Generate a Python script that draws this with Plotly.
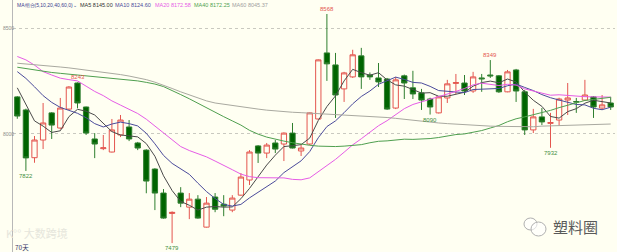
import plotly.graph_objects as go

# ---------------- data ----------------
days = list(range(1, 71))

open_ = [8174, 8112, 7885, 7969, 8098, 8026, 8116, 8240, 8126, 7974,
         7928, 7912, 7993, 8031, 7955, 7921, 7831, 7717, 7620, 7717,
         7650, 7688, 7555, 7698, 7664, 7636, 7707, 7779, 7941, 7907,
         7955, 7950, 8002, 7917, 7950, 8069, 8383, 8326, 8212, 8269,
         8369, 8278, 8264, 8259, 8121, 8274, 8217, 8193, 8164, 8098,
         8169, 8238, 8240, 8202, 8264, 8278, 8274, 8198, 8302, 8198,
         8017, 8079, 8048, 8064, 8159, 8152, 8159, 8174, 8121, 8145]
high = [8178, 8118, 7988, 8145, 8102, 8169, 8225, 8243, 8128, 8002,
        7993, 8069, 8088, 8064, 7960, 7925, 7835, 7736, 7630, 7745,
        7717, 7707, 7698, 7717, 7707, 7707, 7812, 7921, 7945, 7955,
        7969, 8005, 8050, 7950, 8100, 8352, 8568, 8383, 8293, 8398,
        8407, 8290, 8335, 8264, 8269, 8280, 8298, 8212, 8170, 8178,
        8255, 8283, 8278, 8293, 8283, 8349, 8278, 8302, 8307, 8207,
        8117, 8121, 8098, 8170, 8240, 8169, 8255, 8178, 8183, 8174]
low = [8070, 7822, 7861, 7926, 7974, 8020, 8112, 8120, 7993, 7883,
       7921, 7910, 7983, 7964, 7921, 7716, 7636, 7595, 7479, 7650,
       7593, 7595, 7553, 7626, 7607, 7626, 7705, 7755, 7860, 7883,
       7907, 7869, 7929, 7893, 7945, 8066, 8250, 8074, 8150, 8264,
       8212, 8255, 8221, 8112, 8116, 8164, 8164, 8112, 8090, 8095,
       8145, 8188, 8183, 8193, 8198, 8264, 8193, 8196, 8150, 7993,
       8002, 8040, 7932, 8036, 8088, 8098, 8155, 8074, 8112, 8112]
close = [8083, 7884, 7969, 8050, 8040, 8121, 8221, 8145, 8002, 7950,
         7932, 8017, 8064, 7974, 7931, 7774, 7717, 7598, 7625, 7669,
         7688, 7598, 7669, 7640, 7655, 7693, 7793, 7912, 7907, 7945,
         7926, 8002, 7931, 7931, 8098, 8350, 8331, 8183, 8288, 8374,
         8269, 8269, 8245, 8116, 8255, 8240, 8188, 8159, 8126, 8174,
         8236, 8242, 8202, 8269, 8260, 8274, 8198, 8293, 8202, 8017,
         8079, 8055, 8052, 8164, 8169, 8150, 8183, 8126, 8136, 8126]

ma5 = [8217, 8136, 8060, 8035, 8005, 8013, 8080, 8115, 8106, 8088,
       8050, 8009, 7993, 7987, 7984, 7952, 7892, 7799, 7729, 7677,
       7659, 7636, 7650, 7653, 7650, 7651, 7690, 7739, 7792, 7850,
       7897, 7938, 7942, 7947, 7978, 8062, 8128, 8179, 8250, 8305,
       8289, 8277, 8289, 8255, 8231, 8225, 8209, 8192, 8194, 8177,
       8177, 8187, 8196, 8225, 8242, 8249, 8241, 8259, 8245, 8197,
       8158, 8129, 8081, 8073, 8104, 8118, 8144, 8158, 8153, 8145]
ma10 = [8294, 8262, 8222, 8180, 8148, 8124, 8110, 8096, 8075, 8047,
        8031, 8045, 8054, 8047, 8036, 8001, 7951, 7896, 7858, 7830,
        7806, 7764, 7724, 7691, 7663, 7655, 7663, 7694, 7722, 7750,
        7774, 7814, 7840, 7870, 7914, 7980, 8033, 8060, 8099, 8141,
        8176, 8202, 8234, 8252, 8268, 8257, 8243, 8240, 8224, 8204,
        8201, 8198, 8194, 8209, 8210, 8213, 8214, 8227, 8235, 8219,
        8204, 8185, 8170, 8159, 8150, 8138, 8136, 8120, 8113, 8125]
ma20 = [8366, 8350, 8325, 8294, 8278, 8263, 8256, 8250, 8225, 8200,
        8180, 8155, 8135, 8114, 8095, 8068, 8035, 8000, 7968, 7938,
        7919, 7904, 7889, 7869, 7850, 7828, 7807, 7795, 7790, 7790,
        7790, 7789, 7782, 7780, 7789, 7817, 7848, 7877, 7911, 7946,
        7975, 8008, 8037, 8061, 8091, 8118, 8138, 8150, 8161, 8173,
        8188, 8200, 8214, 8231, 8239, 8235, 8228, 8234, 8230, 8212,
        8202, 8192, 8182, 8184, 8180, 8176, 8175, 8174, 8174, 8173]
ma40 = [8315, 8308, 8302, 8296, 8290, 8286, 8282, 8278, 8274, 8270,
        8267, 8263, 8259, 8255, 8250, 8243, 8235, 8223, 8205, 8185,
        8165, 8143, 8120, 8100, 8080, 8060, 8040, 8015, 7997, 7983,
        7972, 7964, 7956, 7949, 7944, 7940, 7938, 7938, 7940, 7942,
        7947, 7956, 7963, 7965, 7970, 7973, 7972, 7973, 7976, 7981,
        7989, 7995, 7998, 8006, 8014, 8026, 8038, 8056, 8070, 8079,
        8089, 8100, 8110, 8123, 8135, 8147, 8157, 8162, 8168, 8172]
ma60 = [8334, 8331, 8328, 8324, 8320, 8316, 8312, 8307, 8302, 8297,
        8292, 8286, 8280, 8273, 8265, 8256, 8244, 8230, 8214, 8198,
        8183, 8167, 8155, 8145, 8139, 8134, 8125, 8120, 8116, 8111,
        8107, 8103, 8101, 8099, 8097, 8095, 8093, 8091, 8089, 8087,
        8085, 8083, 8080, 8076, 8072, 8067, 8063, 8058, 8054, 8050,
        8047, 8044, 8042, 8040, 8037, 8035, 8034, 8033, 8032, 8032,
        8032, 8035, 8036, 8038, 8040, 8041, 8040, 8040, 8042, 8045]

ma_names = ["MA5", "MA10", "MA20", "MA40", "MA60"]
ma_legend_values = ["8145.00", "8124.60", "8172.58", "8172.25", "8045.37"]
header_label = "MA组合(5,10,20,40,60,0)\u2304"
y_ticks = [8000, 8500]
high_marks = [8, 37, 56]        # candles whose highs are labelled
low_marks = [2, 19, 49, 63]     # candles whose lows are labelled
period_label = "70天"
watermark_left = "K\u00b0\u00b0 大数跨境"
watermark_right = "塑料圈"

# ---------------- styles ----------------
BG = "#fffff2"
UP = "#e4564f"
DOWN_LINE = "#2f7f2f"
DOWN_FILL = "#006400"
ma_colors = ["#4a4a4a", "#4b4b9b", "#e65ce6", "#4f9f4f", "#a9a9a0"]
header_color = "#3b3b8f"
FONT = "Liberation Sans, Arial, sans-serif"

W, H = 617, 252
ML, MR = 13, 2
plot_w = W - ML - MR


def px_to_paper_x(px):
    return (px - ML) / plot_w


fig = go.Figure()

fig.add_trace(go.Candlestick(
    x=days, open=open_, high=high, low=low, close=close,
    increasing=dict(line=dict(color=UP, width=1), fillcolor=BG),
    decreasing=dict(line=dict(color=DOWN_LINE, width=1), fillcolor=DOWN_FILL),
    whiskerwidth=0, showlegend=False, hoverinfo="skip",
))

for name, series, col in zip(ma_names, [ma5, ma10, ma20, ma40, ma60], ma_colors):
    fig.add_trace(go.Scatter(
        x=days, y=series, mode="lines", name=name,
        line=dict(color=col, width=1), showlegend=False, hoverinfo="skip",
    ))

annotations = []
# y tick labels (left of the axis line)
for v in y_ticks:
    annotations.append(dict(
        x=px_to_paper_x(1.5), y=v, xref="paper", yref="y", xanchor="left",
        yanchor="middle", borderpad=0, text=str(v), showarrow=False,
        font=dict(size=5, color="#8a8a8a", family=FONT)))

# high / low value labels
for i in high_marks:
    annotations.append(dict(
        x=days[i - 1], y=high[i - 1], xref="x", yref="y",
        text=str(high[i - 1]), showarrow=False, yanchor="bottom", yshift=0,
        font=dict(size=6, color=UP, family=FONT)))
for i in low_marks:
    annotations.append(dict(
        x=days[i - 1], y=low[i - 1], xref="x", yref="y",
        text=str(low[i - 1]), showarrow=False, yanchor="top", yshift=0,
        font=dict(size=6, color="#3f8f3f", family=FONT)))

# header legend
header_x = [15, 78, 113, 153, 192, 230]
header_texts = [header_label] + [f"{n} {v}" for n, v in zip(ma_names, ma_legend_values)]
header_cols = [header_color] + ma_colors
header_cols[1] = "#333333"
header_cols[5] = "#a0a0a0"
header_sizes = [5, 5.5, 5.5, 5.5, 5.5, 5.5]
for hx, ht, hc, hs in zip(header_x, header_texts, header_cols, header_sizes):
    annotations.append(dict(
        x=px_to_paper_x(hx), y=1, xref="paper", yref="paper",
        xanchor="left", yanchor="top", yshift=0,
        text=ht, showarrow=False, font=dict(size=hs, color=hc, family=FONT)))

# bottom labels & watermarks
annotations.append(dict(x=0, y=0, xref="paper", yref="paper", xanchor="left",
                        yanchor="bottom", text=period_label, showarrow=False,
                        xshift=0, yshift=-2,
                        font=dict(size=6.5, color="#333366", family="Noto Sans CJK SC")))
annotations.append(dict(x=px_to_paper_x(4), y=0, xref="paper", yref="paper",
                        xanchor="left", yanchor="bottom", yshift=9,
                        text=watermark_left, showarrow=False,
                        font=dict(size=11, color="#e6e6dc", family="Noto Sans CJK SC")))
annotations.append(dict(x=px_to_paper_x(551), y=0, xref="paper", yref="paper",
                        xanchor="left", yanchor="bottom", yshift=13,
                        text=watermark_right, showarrow=False,
                        font=dict(size=15, color="#5a5a5a", family="Noto Sans CJK SC")))

shapes = [
    dict(type="circle", xref="paper", yref="paper",
         x0=px_to_paper_x(524), x1=px_to_paper_x(537),
         y0=1 - 230 / H, y1=1 - 218 / H,
         line=dict(color="#b0b0b0", width=1), fillcolor="rgba(255,255,255,0.6)"),
    dict(type="circle", xref="paper", yref="paper",
         x0=px_to_paper_x(531), x1=px_to_paper_x(546),
         y0=1 - 236 / H, y1=1 - 222 / H,
         line=dict(color="#b0b0b0", width=1), fillcolor="rgba(255,255,255,0.6)"),
]

fig.update_layout(
    width=W, height=H,
    margin=dict(l=ML, r=MR, t=0, b=0, pad=0),
    paper_bgcolor=BG, plot_bgcolor=BG,
    template="none",
    boxgap=0.12,
    showlegend=False,
    annotations=annotations,
    shapes=shapes,
    font=dict(family=FONT),
    xaxis=dict(range=[0.5, 70.5], showgrid=False, zeroline=False,
               showticklabels=False, ticks="", showline=False,
               rangeslider=dict(visible=False), fixedrange=True),
    yaxis=dict(range=[7436.8, 8634.5], tickvals=y_ticks,
               showticklabels=False, ticks="",
               showgrid=True, gridcolor="#c9c9c0", griddash="dot", gridwidth=1,
               zeroline=False, showline=True, linecolor="#b8b8b8", linewidth=1,
               automargin=False, fixedrange=True),
)

fig.write_html("out.html", config={"displayModeBar": False})
